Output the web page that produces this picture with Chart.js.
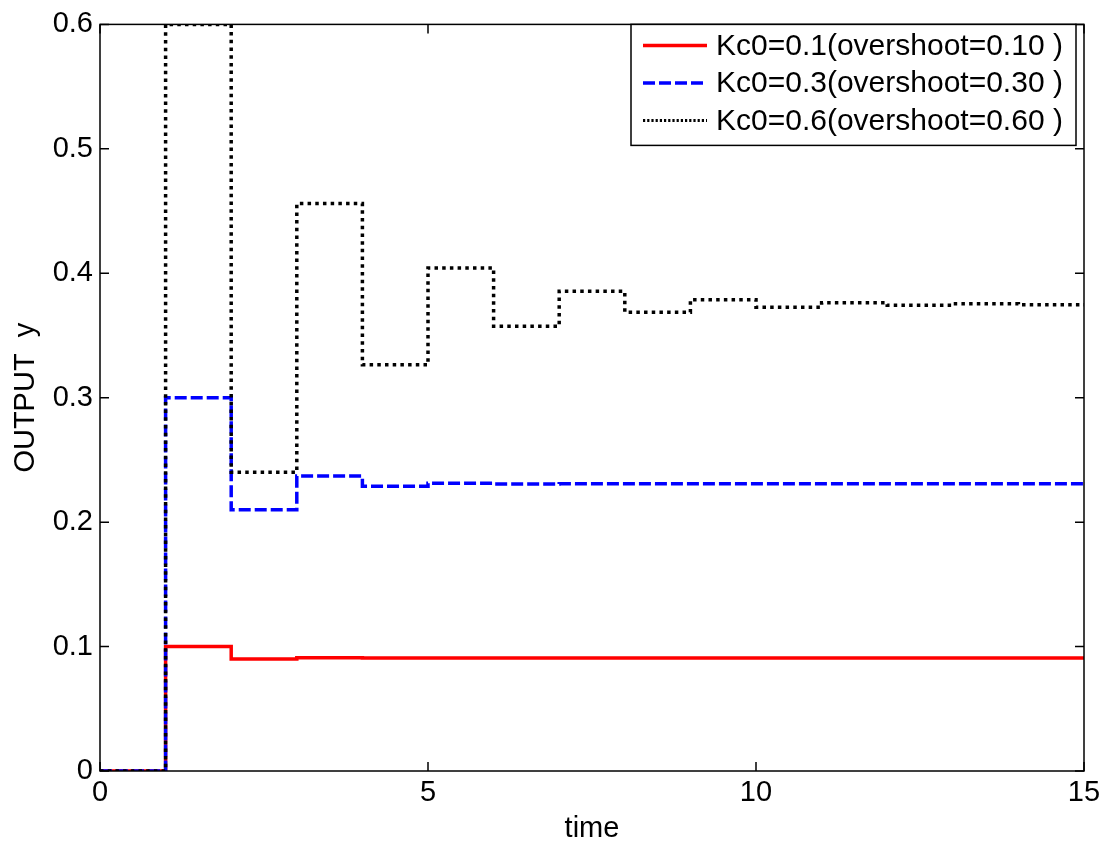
<!DOCTYPE html>
<html>
<head>
<meta charset="utf-8">
<script src="https://cdn.jsdelivr.net/npm/chart.js@4.4.1/dist/chart.umd.min.js"></script>
<style>
    html, body { margin: 0; padding: 0; background: #fff; }
    canvas { display: block; }
</style>
</head>
<body>
<canvas id="step-chart" width="1110" height="850"></canvas>
<script>
// Step responses, one level per sample instant t = 0..15
const time = [0, 1, 2, 3, 4, 5, 6, 7, 8, 9, 10, 11, 12, 13, 14, 15];
const kc01 = [0, 0.1, 0.09, 0.091, 0.0909, 0.0909, 0.0909, 0.0909, 0.0909, 0.0909, 0.0909, 0.0909, 0.0909, 0.0909, 0.0909, 0.0909];
const kc03 = [0, 0.3, 0.21, 0.237, 0.2289, 0.2313, 0.2306, 0.2308, 0.2308, 0.2308, 0.2308, 0.2308, 0.2308, 0.2308, 0.2308, 0.2308];
const kc06 = [0, 0.6, 0.24, 0.456, 0.3264, 0.4042, 0.3575, 0.3855, 0.3687, 0.3788, 0.3727, 0.3764, 0.3742, 0.3755, 0.3747, 0.3747];

const seriesLabels = [
    'Kc0=0.1(overshoot=0.10 )',
    'Kc0=0.3(overshoot=0.30 )',
    'Kc0=0.6(overshoot=0.60 )',
];
const xTicks = [0, 5, 10, 15];
const yTicks = [0, 0.1, 0.2, 0.3, 0.4, 0.5, 0.6];
const xTickLabels = ['0', '5', '10', '15'];
const yTickLabels = ['0', '0.1', '0.2', '0.3', '0.4', '0.5', '0.6'];

const FONT = "'Liberation Sans', Arial, Helvetica, sans-serif";
Chart.defaults.color = '#000';
Chart.defaults.font.family = FONT;

const pts = ys => time.map((t, i) => ({ x: t, y: ys[i] }));

// MATLAB style box with inward ticks on all four sides
const boxPlugin = {
    id: 'matlabBox',
    afterDatasetsDraw(chart) {
        const { ctx, chartArea: a, scales: { x, y } } = chart;
        ctx.save();
        ctx.strokeStyle = '#000';
        ctx.lineWidth = 1.5;
        ctx.strokeRect(a.left, a.top, a.right - a.left, a.bottom - a.top);
        ctx.beginPath();
        yTicks.forEach(v => {
            const py = y.getPixelForValue(v);
            ctx.moveTo(a.left, py); ctx.lineTo(a.left + 9, py);
            ctx.moveTo(a.right, py); ctx.lineTo(a.right - 9, py);
        });
        xTicks.forEach(v => {
            const px = x.getPixelForValue(v);
            ctx.moveTo(px, a.bottom); ctx.lineTo(px, a.bottom - 9);
            ctx.moveTo(px, a.top); ctx.lineTo(px, a.top + 9);
        });
        ctx.stroke();
        ctx.restore();
    }
};

// legend drawn inside the axes, top right, boxed
const legendPlugin = {
    id: 'boxLegend',
    afterDraw(chart) {
        const { ctx, chartArea: a } = chart;
        const w = 445, h = 121;
        const left = a.right - 8 - w, top = a.top;
        ctx.save();
        ctx.fillStyle = '#fff';
        ctx.fillRect(left, top, w, h);
        ctx.strokeStyle = '#000';
        ctx.lineWidth = 1.5;
        ctx.strokeRect(left, top, w, h);
        ctx.font = '30px ' + FONT;
        ctx.textBaseline = 'middle';
        ctx.textAlign = 'left';
        chart.data.datasets.forEach((ds, i) => {
            const ry = top + 21 + i * 37.5;
            ctx.beginPath();
            ctx.strokeStyle = ds.borderColor;
            ctx.lineWidth = ds.legendWidth;
            ctx.setLineDash(ds.legendDash);
            ctx.moveTo(left + 12, ry);
            ctx.lineTo(left + 76, ry);
            ctx.stroke();
            ctx.setLineDash([]);
            ctx.fillStyle = '#000';
            ctx.fillText(seriesLabels[i], left + 85, ry + 1);
        });
        ctx.restore();
    }
};

new Chart(document.getElementById('step-chart'), {
    type: 'line',
    data: {
        datasets: [
            {
                label: seriesLabels[0], data: pts(kc01),
                borderColor: '#ff0000', borderWidth: 3.5, borderDash: [],
                legendDash: [], legendWidth: 3.5, order: 3,
            },
            {
                label: seriesLabels[1], data: pts(kc03),
                borderColor: '#0000ff', borderWidth: 3.5, borderDash: [12, 4],
                legendDash: [12, 4], legendWidth: 3.5, order: 2,
            },
            {
                label: seriesLabels[2], data: pts(kc06),
                borderColor: '#000000', borderWidth: 3.5, borderDash: [3.5, 4.2],
                legendDash: [2.2, 2], legendWidth: 3, order: 1,
            },
        ]
    },
    options: {
        responsive: false,
        animation: false,
        elements: {
            line: { stepped: 'before', tension: 0, fill: false },
            point: { radius: 0, hoverRadius: 0 },
        },
        layout: { padding: { top: 19, right: 26, left: 0, bottom: 0 } },
        plugins: {
            legend: { display: false },
            tooltip: { enabled: false },
        },
        scales: {
            x: {
                type: 'linear', min: 0, max: 15,
                grid: { display: false, drawTicks: false },
                border: { display: false },
                afterBuildTicks: s => { s.ticks = xTicks.map(v => ({ value: v })); },
                afterFit: s => { s.height = 79; },
                ticks: {
                    padding: 5,
                    maxRotation: 0,
                    font: { size: 29 },
                    callback: (v) => xTickLabels[xTicks.indexOf(v)],
                },
                title: {
                    display: true, text: 'time',
                    font: { size: 29 },
                    padding: { top: 0, bottom: 4 },
                },
            },
            y: {
                type: 'linear', min: 0, max: 0.6,
                grid: { display: false, drawTicks: false },
                border: { display: false },
                afterBuildTicks: s => { s.ticks = yTicks.map(v => ({ value: v })); },
                afterFit: s => { s.width = 100; },
                ticks: {
                    padding: 7,
                    font: { size: 29 },
                    callback: (v) => yTickLabels[yTicks.indexOf(v)],
                },
                title: {
                    display: true, text: 'OUTPUT  y',
                    font: { size: 29 },
                    padding: { top: 9, bottom: 0 },
                },
            },
        },
    },
    plugins: [boxPlugin, legendPlugin],
});
</script>
</body>
</html>
